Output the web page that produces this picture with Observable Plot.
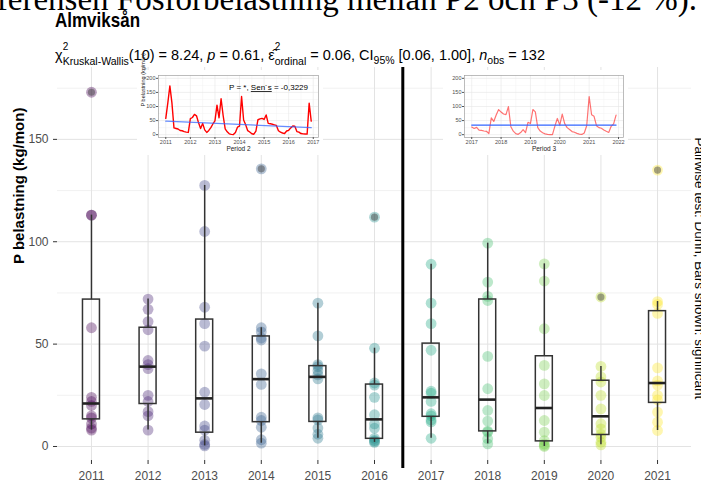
<!DOCTYPE html>
<html lang="sv">
<head>
<meta charset="utf-8">
<title>Almviksån</title>
<script src="https://cdn.jsdelivr.net/npm/d3@7"></script>
<script src="https://cdn.jsdelivr.net/npm/@observablehq/plot@0.6"></script>
<style>
  html, body { margin: 0; padding: 0; background: #fff; }
  #page { position: relative; width: 701px; height: 483px; overflow: hidden; background: #fff; }
  #doc { position: absolute; left: 0; top: 0; }
  #fig { position: absolute; left: 0; top: 0; width: 701px; height: 483px; }
  #fig > * { position: absolute; }
  .title { font: bold 17px "Liberation Sans", Arial, sans-serif; line-height: 17px; white-space: nowrap; color: #000;
           transform: scaleY(1.2); transform-origin: 0 100%; }
  .subtitle { font: 14.5px "Liberation Sans", Arial, sans-serif; line-height: 14.5px; white-space: nowrap; color: #000; }
  .st { position: relative; display: inline-block; }
  .st .sb { position: relative; top: 5px; font-size: 10.5px; }
  .st .sp { position: absolute; left: 0; top: -8px; font-size: 10px; }
  .lo { position: relative; top: 3.5px; font-size: 10.5px; }
</style>
</head>
<body>
<div id="page">
  <svg id="doc" width="701" height="30">
    <text x="697" y="10" text-anchor="end" font-family="Liberation Serif, Times New Roman, serif" font-size="33">Referensen Fosforbelastning mellan P2 och P3 (-12 %).</text>
  </svg>
  <div id="fig"></div>
</div>
<script>
// Monthly phosphorus load at Almviksån, kg/month, January to December.
const y2011 = [58, 113, 173, 113, 24, 22, 20, 15, 14, 11, 9, 8];
const y2012 = [57, 61, 72, 67, 42, 22, 40, 17, 8, 15, 25, 38];
const y2013 = [49, 105, 60, 127.5, 68, 20.5, 10, 3, 1, 0.3, 8, 26.5];
const y2014 = [30.3, 135.6, 52, 35.5, 14.3, 9.4, 3.3, 1.6, 12.7, 53, 56, 58];
const y2015 = [54, 70, 40, 39, 37, 35, 33, 14, 9, 6, 4, 13];
const y2016 = [15.5, 24, 31, 30, 11, 9, 4, 3, 2.5, 2, 112, 48];
const y2017 = [27, 22, 26, 16, 15, 13, 12, 4, 60, 47, 70, 89];
const y2018 = [80.3, 73.3, 71.3, 99.3, 28.2, 12.4, 3.8, 1.3, 7.5, 17.6, 7, 44];
const y2019 = [39.6, 89.2, 80.8, 24.9, 12.7, 7, 2.9, 1.3, 0.5, 0, 30.6, 57.5];
const y2020 = [34, 73, 39.1, 25, 18.4, 11.1, 8.6, 4.5, 2.1, 0.8, 6, 31.5];
const y2021 = [135, 70.8, 65, 32, 25, 22.8, 16.8, 11.9, 7.8, 30, 38.4, 69.4];

const years = [2011, 2012, 2013, 2014, 2015, 2016, 2017, 2018, 2019, 2020, 2021];
const series = [y2011, y2012, y2013, y2014, y2015, y2016, y2017, y2018, y2019, y2020, y2021];
const period2Years = [2011, 2012, 2013, 2014, 2015, 2016];
const period3Years = [2017, 2018, 2019, 2020, 2021];

const yTicks = [0, 50, 100, 150];
const yMinor = [25, 75, 125, 175];
const insetYTicks = [0, 50, 100, 150, 200];
const insetYMinor = [25, 75, 125, 175];
const period2Ticks = [2011, 2012, 2013, 2014, 2015, 2016, 2017];
const period3Ticks = [2017, 2018, 2019, 2020, 2021, 2022];

// Sen's slope (per month) of period 2 and the trend level at its midpoint; flat trend level for period 3
const senSlope2 = -0.3229;
const trendMid2 = 36.5;
const trendLevel3 = 34;

const titleText = "Almviksån";
const yLabel = "P belastning (kg/mon)";
const insetYLabel = "P belastning (kg/mån)";
const sideNote = "Pairwise test: Dunn, Bars shown: significant";

const FONT = "Liberation Sans, Arial, sans-serif";
const fig = document.getElementById("fig");

// long table of monthly values
const rows = years.flatMap((yr, i) => series[i].map((v, m) => ({year: yr, date: yr + m / 12, value: v})));

// Tukey box statistics (R type-7 quantiles)
const stats = years.map((yr, i) => {
  const v = series[i].slice().sort(d3.ascending);
  const q1 = d3.quantile(v, 0.25), med = d3.quantile(v, 0.5), q3 = d3.quantile(v, 0.75);
  const iqr = q3 - q1, lo = q1 - 1.5 * iqr, hi = q3 + 1.5 * iqr;
  const inside = v.filter(x => x >= lo && x <= hi);
  return {year: yr, q1, med, q3, wlo: d3.min(inside), whi: d3.max(inside),
          out: v.filter(x => x < lo || x > hi)};
});
const outliers = stats.flatMap(s => s.out.map(v => ({year: s.year, value: v})));

// ---------------- title & subtitle ----------------
const title = document.createElement("div");
title.className = "title";
title.textContent = titleText;
title.style.left = "55px";
title.style.top = "13.5px";
fig.appendChild(title);

const sub = document.createElement("div");
sub.className = "subtitle";
sub.innerHTML = 'χ<span class="st"><span class="sp">2</span><span class="sb">Kruskal-Wallis</span></span>(10) = 8.24, <i>p</i> = 0.61, ' +
  'ε̂<span class="st"><span class="sp">2</span><span class="sb">ordinal</span></span> = 0.06, CI<span class="lo">95%</span> [0.06, 1.00], ' +
  '<i>n</i><span class="lo">obs</span> = 132';
sub.style.left = "55px";
sub.style.top = "48px";
fig.appendChild(sub);

// ---------------- main box plot ----------------
const yDom = [-6.84, 185.1];
const main = Plot.plot({
  width: 701,
  height: 483,
  marginLeft: 57,
  marginRight: 10,
  marginTop: 67,
  marginBottom: 23,
  style: {fontFamily: FONT, color: "#4D4D4D", background: "transparent", overflow: "visible"},
  x: {domain: [2010.4, 2021.6]},
  y: {domain: yDom},
  color: {type: "ordinal", domain: years, range: d3.quantize(d3.interpolateViridis, years.length)},
  marks: [
    Plot.gridY(yMinor, {stroke: "#EDEDED", strokeOpacity: 1, strokeWidth: 0.8}),
    Plot.gridY(yTicks, {stroke: "#E3E3E3", strokeOpacity: 1, strokeWidth: 1}),
    Plot.gridX(years, {stroke: "#E3E3E3", strokeOpacity: 1, strokeWidth: 1}),
    Plot.dot(rows, {x: "year", y: "value", r: 5.4, fill: "year", fillOpacity: 0.36, stroke: null}),
    Plot.dot(outliers, {x: "year", y: "value", r: 3.6, fill: "#3a3a3a", fillOpacity: 0.45, stroke: null}),
    Plot.ruleX(stats, {x: "year", y1: "q3", y2: "whi", stroke: "#333", strokeWidth: 1.5}),
    Plot.ruleX(stats, {x: "year", y1: "q1", y2: "wlo", stroke: "#333", strokeWidth: 1.5}),
    Plot.rect(stats, {x1: d => d.year - 0.15, x2: d => d.year + 0.15, y1: "q1", y2: "q3",
                      fill: "none", stroke: "#333", strokeWidth: 1.5}),
    Plot.ruleY(stats, {x1: d => d.year - 0.15, x2: d => d.year + 0.15, y: "med", stroke: "#222", strokeWidth: 2.6}),
    Plot.ruleX([2016.5], {y1: yDom[1], y2: -10.75, stroke: "#000", strokeWidth: 3}),
    Plot.axisX(years, {tickSize: 4, tickPadding: 7, fontSize: 12, tickFormat: d => String(d), label: null, stroke: "#333"}),
    Plot.axisY(yTicks, {tickSize: 4, tickPadding: 5, fontSize: 12, label: null, stroke: "#333"}),
    Plot.text([yLabel], {text: d => d, frameAnchor: "left", dx: -38, rotate: -90, fontSize: 15,
                         fontWeight: "bold", fill: "#000"}),
    Plot.text([sideNote], {text: d => d, frameAnchor: "top-right", dx: 3, dy: 70, rotate: 90,
                           textAnchor: "start", lineAnchor: "bottom", fontSize: 13.5, fill: "#000"})
  ]
});
main.style.left = "0px";
main.style.top = "0px";
fig.appendChild(main);

// ---------------- inset time series ----------------
function inset({left, width, marginLeft, domain, ticks, data, trend, lineOpacity, lineWidth, trendOpacity, period, withYLabel}) {
  const halfYears = ticks.slice(0, -1).map(t => t + 0.5);
  const marks = [
    Plot.frame({fill: "#fff", stroke: null}),
    Plot.gridX(halfYears, {stroke: "#F3F3F3", strokeOpacity: 1, strokeWidth: 0.5}),
    Plot.gridY(insetYMinor, {stroke: "#F3F3F3", strokeOpacity: 1, strokeWidth: 0.5}),
    Plot.gridX(ticks, {stroke: "#E6E6E6", strokeOpacity: 1, strokeWidth: 0.6}),
    Plot.gridY(insetYTicks, {stroke: "#E6E6E6", strokeOpacity: 1, strokeWidth: 0.6}),
    Plot.line(data, {x: "date", y: "value", stroke: "#FF0000", strokeWidth: lineWidth, strokeOpacity: lineOpacity}),
    Plot.line(trend, {x: "date", y: "value", stroke: "#3366FF", strokeWidth: 1.3, strokeOpacity: trendOpacity}),
    Plot.frame({stroke: "#A0A0A0", strokeWidth: 0.7}),
    Plot.axisX(ticks, {tickSize: 2, tickPadding: 1, fontSize: 5.5, tickFormat: d => String(d), label: null, stroke: "#555"}),
    Plot.axisY(insetYTicks, {tickSize: 2, tickPadding: 1, fontSize: 5.5, label: null, stroke: "#555"}),
    Plot.text([period], {text: d => d, frameAnchor: "bottom", dy: 13, fontSize: 6.5, fill: "#222"})
  ];
  if (withYLabel) {
    marks.push(Plot.text([insetYLabel], {text: d => d, frameAnchor: "left", dx: -15, rotate: -90, fontSize: 5.5, fill: "#222"}));
  }
  const p = Plot.plot({
    width, height: 85,
    marginLeft, marginRight: 5, marginTop: 5, marginBottom: 18,
    style: {fontFamily: FONT, color: "#4D4D4D", background: "#fff", overflow: "visible"},
    x: {domain},
    y: {domain: [-10, 210]},
    marks
  });
  p.style.left = left + "px";
  p.style.top = "70px";
  fig.appendChild(p);
  return p;
}

const rows2 = rows.filter(d => period2Years.includes(d.year));
const rows3 = rows.filter(d => period3Years.includes(d.year));
const n2 = rows2.length - 1;
const trend2 = [0, n2].map(k => ({date: rows2[k].date, value: trendMid2 + senSlope2 * (k - n2 / 2)}));
const trend3 = [rows3[0], rows3[rows3.length - 1]].map(d => ({date: d.date, value: trendLevel3}));

inset({left: 137, width: 186, marginLeft: 21, domain: [2010.704, 2017.213], ticks: period2Ticks,
  data: rows2, trend: trend2, lineOpacity: 1, lineWidth: 1.4, trendOpacity: 0.75, period: "Period 2", withYLabel: true});
inset({left: 443, width: 185, marginLeft: 21, domain: [2016.754, 2022.17], ticks: period3Ticks,
  data: rows3, trend: trend3, lineOpacity: 0.55, lineWidth: 1.2, trendOpacity: 1, period: "Period 3", withYLabel: false});

// text box laid over the period 2 panel
const note = document.createElementNS("http://www.w3.org/2000/svg", "svg");
note.setAttribute("width", 186);
note.setAttribute("height", 30);
note.style.left = "137px";
note.style.top = "78px";
note.innerHTML = `<text x="171" y="12" text-anchor="end" font-family="${FONT}" font-size="8" fill="#000">P = *, <tspan style="text-decoration: underline wavy #e33;">Sen´s</tspan> = -0,3229</text>`;
fig.appendChild(note);
</script>
</body>
</html>
